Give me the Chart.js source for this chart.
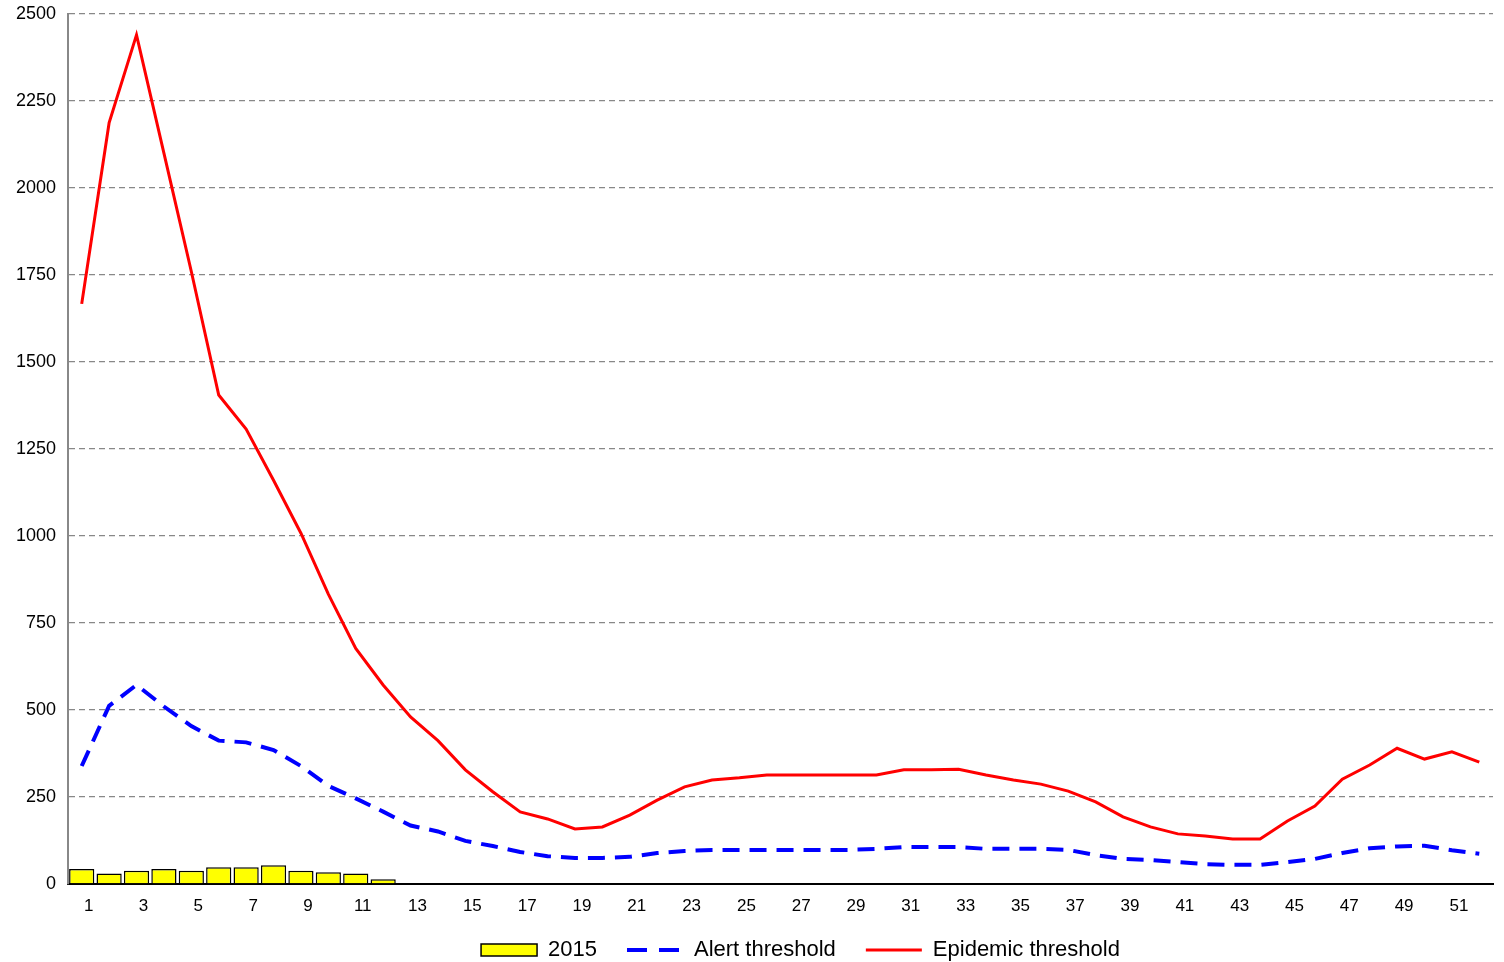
<!DOCTYPE html>
<html>
<head>
<meta charset="utf-8">
<script src="https://cdn.jsdelivr.net/npm/chart.js@4/dist/chart.umd.min.js"></script>
<style>
  html, body { margin: 0; padding: 0; background: #fff; }
  #wrap { width: 1504px; height: 962px; }
</style>
</head>
<body>
<div id="wrap"><canvas id="chart"></canvas></div>
<script>
const weeks = [];
for (let w = 1; w <= 52; w++) weeks.push(String(w));

// 2015 weekly cases (weeks 1-14)
const cases2015 = [43, 30, 38, 43, 38, 48, 48, 54, 38, 34, 30, 14, 2, 2,
    null, null, null, null, null, null, null, null, null, null, null, null, null,
    null, null, null, null, null, null, null, null, null, null, null, null, null,
    null, null, null, null, null, null, null, null, null, null, null, null];

const alertThreshold = [339, 512, 572, 510, 454, 412, 407, 385, 339, 282, 246, 208, 168, 151,
    124, 109, 92, 80, 75, 75, 78, 89, 95, 98, 98, 98, 98, 98, 98, 101,
    106, 106, 106, 101, 101, 101, 98, 83, 72, 69, 63, 57, 55, 55,
    63, 72, 89, 103, 108, 110, 97, 87];

const epidemicThreshold = [1667, 2187, 2440, 2100, 1760, 1405, 1307, 1160, 1008, 833, 677, 572, 480, 412,
    328, 265, 207, 187, 158, 164, 198, 241, 279, 299, 305, 313, 313, 313, 313, 313,
    328, 328, 330, 313, 299, 287, 267, 236, 193, 164, 144, 138, 129, 129,
    181, 224, 301, 342, 390, 359, 380, 350];

const FONT = 'Arial, "Liberation Sans", sans-serif';

// legend sits a bit right of centre and tight under the axis in the original
const legendNudge = {
    id: 'legendNudge',
    afterLayout(chart) {
        const lg = chart.legend;
        lg.left += 54; lg.right += 54;
        lg.top -= 7;
    }
};

new Chart(document.getElementById('chart').getContext('2d'), {
    type: 'bar',
    data: {
        labels: weeks,
        datasets: [{
            label: '2015',
            data: cases2015,
            backgroundColor: '#ffff00',
            borderColor: '#000000',
            borderWidth: 1.5,
            barPercentage: 0.92,
            categoryPercentage: 1.0,
            order: 3
        }, {
            type: 'line',
            label: 'Alert threshold',
            data: alertThreshold,
            borderColor: '#0000ff',
            backgroundColor: '#0000ff',
            borderWidth: 4,
            borderDash: [17, 10],
            pointRadius: 0,
            tension: 0,
            fill: false,
            order: 2
        }, {
            type: 'line',
            label: 'Epidemic threshold',
            data: epidemicThreshold,
            borderColor: '#ff0000',
            backgroundColor: '#ff0000',
            borderWidth: 3,
            pointRadius: 0,
            tension: 0,
            fill: false,
            order: 1
        }]
    },
    plugins: [legendNudge],
    options: {
        responsive: true,
        maintainAspectRatio: false,
        animation: false,
        layout: { padding: { top: 14, right: 11, left: 0, bottom: 0 } },
        plugins: {
            tooltip: { enabled: false },
            legend: {
                position: 'bottom',
                maxHeight: 46,
                labels: {
                    font: { family: FONT, size: 22 },
                    color: '#000',
                    usePointStyle: true,
                    pointStyleWidth: 56,
                    boxHeight: 12,
                    padding: 30,
                    generateLabels: (chart) => chart.data.datasets.map((ds, i) => ({
                        text: ds.label,
                        datasetIndex: i,
                        fillStyle: ds.type === 'line' ? ds.borderColor : ds.backgroundColor,
                        strokeStyle: ds.borderColor,
                        lineWidth: ds.type === 'line' ? ds.borderWidth : 1.5,
                        lineDash: ds.type === 'line' && ds.borderDash ? [20, 12] : [],
                        pointStyle: ds.type === 'line' ? 'line' : 'rect',
                        hidden: false
                    }))
                }
            }
        },
        scales: {
            x: {
                grid: { display: false },
                border: { display: true, color: '#000', width: 2 },
                ticks: {
                    autoSkip: false,
                    maxRotation: 0,
                    color: '#000',
                    font: { family: FONT, size: 17 },
                    padding: 4,
                    labelOffset: 7,
                    callback: function (val, idx) {
                        return idx % 2 === 0 ? this.getLabelForValue(val) : '';
                    }
                },
                afterFit: (scale) => { scale.height = 32; }
            },
            y: {
                min: 0,
                max: 2500,
                grid: {
                    color: '#888888',
                    lineWidth: 1.3,
                    drawTicks: false
                },
                border: { display: true, color: '#888888', width: 2, dash: [6, 4] },
                ticks: {
                    stepSize: 250,
                    color: '#000',
                    font: { family: FONT, size: 18 },
                    padding: 12,
                    callback: (v) => String(v)
                },
                afterFit: (scale) => {
                    scale.width = 68;
                    scale.paddingTop = 0;
                    scale.paddingBottom = 0;
                }
            }
        }
    }
});
</script>
</body>
</html>
